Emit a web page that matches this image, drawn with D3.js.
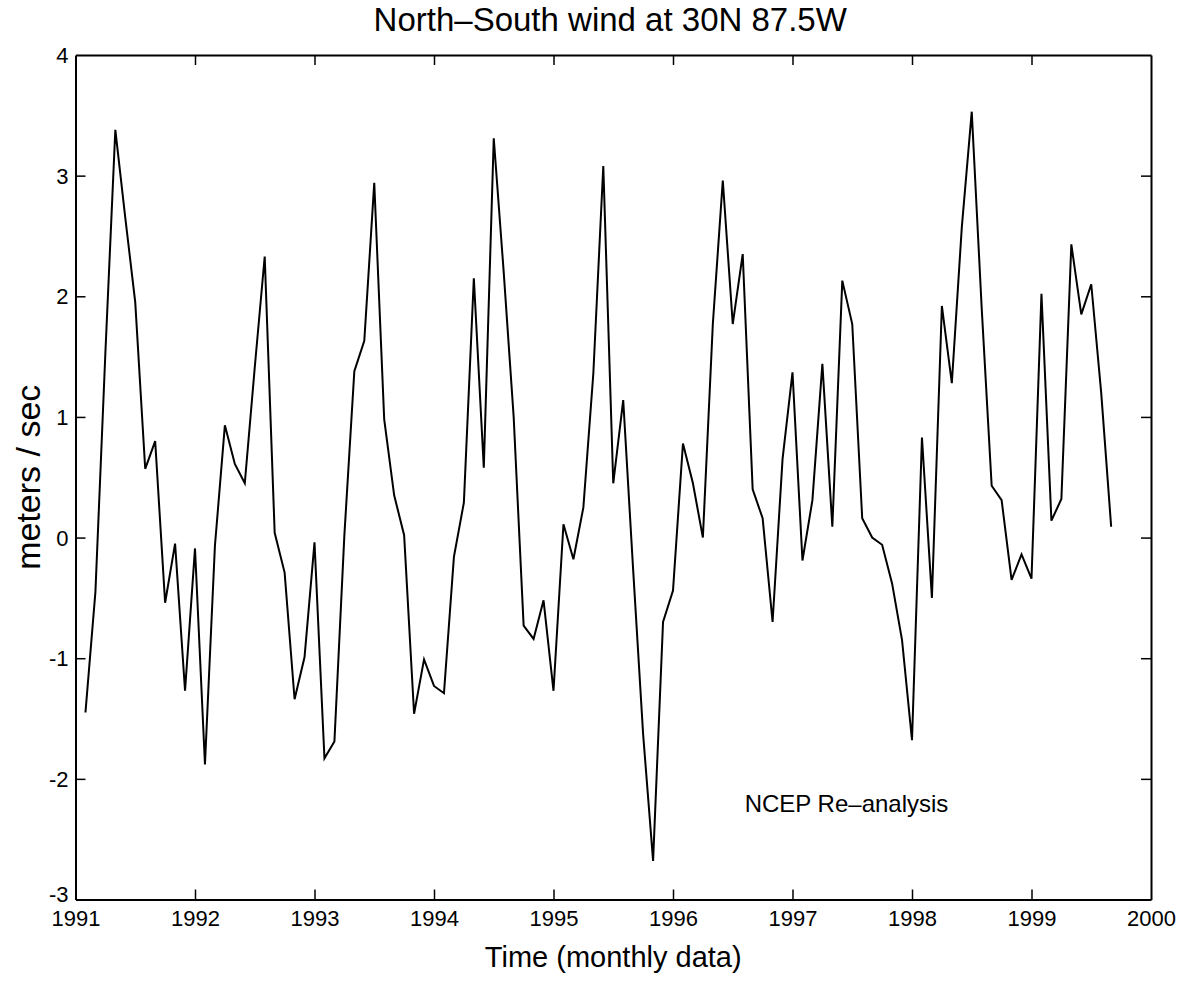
<!DOCTYPE html>
<html>
<head>
<meta charset="utf-8">
<script src="https://cdn.jsdelivr.net/npm/d3@7"></script>
<style>
  html, body { margin: 0; padding: 0; background: #fff; }
  svg { display: block; }
  text { font-family: "Liberation Sans", Arial, Helvetica, sans-serif; fill: #000; }
</style>
</head>
<body>
<svg id="chart" width="1185" height="984"></svg>
<script>
// ---- data (monthly values, Jan 1991 .. Aug 1999; meters/sec) ----
const startYear = 1991;
const windValues = [
  -1.45, -0.45, 1.53, 3.38, 2.65, 1.95, 0.57, 0.80, -0.54, -0.05, -1.27, -0.09,
  -1.88, -0.07, 0.93, 0.61, 0.45, 1.41, 2.33, 0.04, -0.29, -1.34, -0.99, -0.04,
  -1.83, -1.69, 0.02, 1.38, 1.63, 2.94, 0.98, 0.35, 0.02, -1.46, -1.01, -1.23,
  -1.29, -0.16, 0.29, 2.15, 0.58, 3.31, 2.20, 1.00, -0.73, -0.84, -0.52, -1.27,
  0.11, -0.18, 0.25, 1.36, 3.08, 0.45, 1.14, -0.27, -1.63, -2.68, -0.70, -0.44,
  0.78, 0.45, 0.00, 1.77, 2.96, 1.77, 2.35, 0.40, 0.16, -0.70, 0.65, 1.37,
  -0.19, 0.31, 1.44, 0.09, 2.13, 1.77, 0.16, 0.00, -0.06, -0.38, -0.85, -1.68,
  0.83, -0.50, 1.92, 1.28, 2.57, 3.53, 1.90, 0.43, 0.31, -0.35, -0.14, -0.34,
  2.02, 0.14, 0.32, 2.43, 1.85, 2.10, 1.20, 0.09
];
const xTickYears = [1991, 1992, 1993, 1994, 1995, 1996, 1997, 1998, 1999, 2000];
const yTickValues = [-3, -2, -1, 0, 1, 2, 3, 4];
const titleText = "North\u2013South wind at 30N 87.5W";
const xLabelText = "Time (monthly data)";
const yLabelText = "meters / sec";
const noteText = "NCEP Re\u2013analysis";

// ---- layout ----
const plot = { left: 75.5, right: 1151, top: 55, bottom: 899.5 };
const svg = d3.select("#chart");

const x = d3.scaleLinear().domain([1991, 2000]).range([plot.left, plot.right]);
const y = d3.scaleLinear().domain([-3, 4]).range([plot.bottom, plot.top]);

const series = windValues.map((v, i) => ({ t: startYear + (i + 1) / 12, v }));

const tickLen = 10;

// axes (ticks inward, box on)
const gBottom = svg.append("g").attr("transform", `translate(0,${plot.bottom})`)
  .call(d3.axisBottom(x).tickValues(xTickYears).tickFormat(d3.format("d"))
        .tickSizeInner(-tickLen).tickSizeOuter(0).tickPadding(8));
const gTop = svg.append("g").attr("transform", `translate(0,${plot.top})`)
  .call(d3.axisTop(x).tickValues(xTickYears).tickFormat("")
        .tickSizeInner(-tickLen).tickSizeOuter(0));
const gLeft = svg.append("g").attr("transform", `translate(${plot.left},0)`)
  .call(d3.axisLeft(y).tickValues(yTickValues).tickFormat(d => d < 0 ? "-" + Math.abs(d) : String(d))
        .tickSizeInner(-tickLen).tickSizeOuter(0).tickPadding(7));
const gRight = svg.append("g").attr("transform", `translate(${plot.right},0)`)
  .call(d3.axisRight(y).tickValues(yTickValues).tickFormat("")
        .tickSizeInner(-tickLen).tickSizeOuter(0));

[gBottom, gTop, gLeft, gRight].forEach(g => {
  g.select(".domain").attr("stroke", "#000").attr("stroke-width", 2);
  g.selectAll(".tick line").attr("stroke", "#000").attr("stroke-width", 1.5);
  g.selectAll(".tick text").style("font-size", "22px")
   .style("font-family", "'Liberation Sans', Arial, sans-serif").attr("fill", "#000");
});
gBottom.selectAll(".tick text").attr("dy", "0.85em");
gLeft.selectAll(".tick text").attr("dy", "0.35em");
// the -3 label sits just above the 1991 label, as in the reference
gLeft.selectAll(".tick text").filter(d => d === -3).attr("dy", "0.1em");
// no inner ticks at the frame corners
gBottom.selectAll(".tick line").filter(d => d === 1991 || d === 2000).remove();
gTop.selectAll(".tick line").filter(d => d === 1991 || d === 2000).remove();
gLeft.selectAll(".tick line").filter(d => d === -3 || d === 4).remove();
gRight.selectAll(".tick line").filter(d => d === -3 || d === 4).remove();

// line
const line = d3.line().x(d => x(d.t)).y(d => y(d.v));
svg.append("path").datum(series)
  .attr("fill", "none").attr("stroke", "#000").attr("stroke-width", 2)
  .attr("stroke-linejoin", "miter").attr("d", line);

// texts
svg.append("text").attr("x", (plot.left + plot.right) / 2 - 3).attr("y", 31)
  .attr("text-anchor", "middle").style("font-size", "33px").text(titleText);
svg.append("text").attr("x", (plot.left + plot.right) / 2).attr("y", 967)
  .attr("text-anchor", "middle").style("font-size", "29px").text(xLabelText);
svg.append("text").attr("transform", `translate(40,${(plot.top + plot.bottom) / 2}) rotate(-90)`)
  .attr("text-anchor", "middle").style("font-size", "34px").text(yLabelText);
svg.append("text").attr("x", x(1996.6)).attr("y", 812)
  .attr("text-anchor", "start").style("font-size", "24px").text(noteText);
</script>
</body>
</html>
